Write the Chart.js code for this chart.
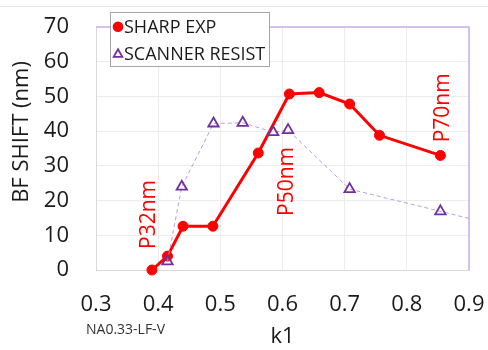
<!DOCTYPE html>
<html>
<head>
<meta charset="utf-8">
<script src="https://cdn.jsdelivr.net/npm/chart.js@4.4.1/dist/chart.umd.min.js"></script>
<style>
  html, body { margin: 0; padding: 0; background: #fff; }
  canvas { display: block; }
</style>
</head>
<body>
<canvas id="bfShiftChart" width="488" height="350"></canvas>
<script>
// values
const sharpK1 = [0.39, 0.415, 0.44, 0.488, 0.561, 0.611, 0.659, 0.708, 0.756, 0.854];
const sharpShift = [0, 4, 12.6, 12.6, 33.7, 50.7, 51.1, 47.8, 38.8, 33.0];

const scannerK1 = [0.415, 0.438, 0.489, 0.536, 0.585, 0.609, 0.708, 0.854, 0.96];
const scannerShift = [2.5, 24, 42.2, 42.4, 39.7, 40.3, 23.3, 16.9, 12.2];

const xTicks = [0.3, 0.4, 0.5, 0.6, 0.7, 0.8, 0.9];
const yTicks = [0, 10, 20, 30, 40, 50, 60, 70];

const pitchLabels = ['P32nm', 'P50nm', 'P70nm'];
const pitchLabelK1 = [0.386, 0.607, 0.858];
const pitchLabelShift = [16.0, 25.5, 46.7];

const RED = '#ff0000';
const PURPLE = '#7030a0';
const FONT = "'Open Sans', sans-serif";

Chart.defaults.font.family = FONT;

const overlay = {
  id: 'overlay',
  beforeDraw(chart) {
    const { ctx } = chart;
    ctx.save();
    ctx.strokeStyle = '#e4e4e4';
    ctx.lineWidth = 1;
    ctx.beginPath();
    ctx.moveTo(0, 6.5);
    ctx.lineTo(chart.width, 6.5);
    ctx.stroke();
    ctx.restore();
  },
  beforeDatasetsDraw(chart) {
    const { ctx, chartArea: a } = chart;
    ctx.save();
    ctx.strokeStyle = '#c9b0e8';
    ctx.lineWidth = 1.5;
    ctx.beginPath();
    ctx.moveTo(a.left, a.top);
    ctx.lineTo(a.right, a.top);
    ctx.lineTo(a.right, a.bottom);
    ctx.stroke();
    ctx.restore();
  },
  afterDraw(chart) {
    const { ctx } = chart;
    const xs = chart.scales.x;
    const ys = chart.scales.y;
    ctx.save();
    ctx.textAlign = 'center';
    ctx.textBaseline = 'middle';

    // y axis title
    ctx.fillStyle = '#1a1a1a';
    ctx.font = '22px ' + FONT;
    ctx.save();
    ctx.translate(22, 132);
    ctx.rotate(-Math.PI / 2);
    ctx.fillText('BF SHIFT (nm)', 0, 0);
    ctx.restore();

    // x axis title and note
    ctx.fillText('k1', 282.5, 337);
    ctx.font = '14px ' + FONT;
    ctx.fillStyle = '#333';
    ctx.textAlign = 'left';
    ctx.fillText('NA0.33-LF-V', 86, 330);

    // pitch labels
    ctx.textAlign = 'center';
    ctx.fillStyle = RED;
    ctx.font = '21px ' + FONT;
    pitchLabels.forEach((txt, i) => {
      ctx.save();
      ctx.translate(xs.getPixelForValue(pitchLabelK1[i]), ys.getPixelForValue(pitchLabelShift[i]));
      ctx.rotate(-Math.PI / 2);
      ctx.fillText(txt, 0, 0);
      ctx.restore();
    });

    // legend
    ctx.fillStyle = '#fff';
    ctx.fillRect(110.5, 12.5, 159, 54);
    ctx.strokeStyle = '#a6a6a6';
    ctx.lineWidth = 1;
    ctx.strokeRect(110.5, 12.5, 159, 54);
    const rows = [26.7, 54.3];
    chart.data.datasets.forEach((ds, i) => {
      const y = rows[i];
      ctx.save();
      if (ds.pointStyle === 'triangle') {
        ctx.strokeStyle = ds.pointBorderColor;
        ctx.lineWidth = 1.8;
        const r = 5;
        ctx.beginPath();
        ctx.moveTo(118, y - r);
        ctx.lineTo(118 + r * 0.866, y + r * 0.5);
        ctx.lineTo(118 - r * 0.866, y + r * 0.5);
        ctx.closePath();
        ctx.stroke();
      } else {
        ctx.fillStyle = ds.pointBackgroundColor;
        ctx.beginPath();
        ctx.arc(118, y, 5.3, 0, Math.PI * 2);
        ctx.fill();
      }
      ctx.restore();
      ctx.fillStyle = '#1a1a1a';
      ctx.font = '18px ' + FONT;
      ctx.textAlign = 'left';
      ctx.fillText(ds.label, 124, y + 1);
    });
    ctx.restore();
  }
};

const ctx = document.getElementById('bfShiftChart').getContext('2d');

new Chart(ctx, {
  type: 'line',
  data: {
    datasets: [
      {
        label: 'SHARP EXP',
        data: sharpK1.map((k, i) => ({ x: k, y: sharpShift[i] })),
        borderColor: RED,
        borderWidth: 3,
        pointStyle: 'circle',
        pointRadius: 5,
        pointBorderWidth: 1,
        pointBackgroundColor: RED,
        pointBorderColor: RED,
        clip: false,
        order: 1,
      },
      {
        label: 'SCANNER RESIST',
        data: scannerK1.map((k, i) => ({ x: k, y: scannerShift[i] })),
        borderColor: '#b89ddd',
        borderWidth: 1,
        borderDash: [4, 3],
        pointStyle: 'triangle',
        pointRadius: 6,
        pointBorderWidth: 1.8,
        pointBackgroundColor: 'rgba(255,255,255,0)',
        pointBorderColor: PURPLE,
        clip: { left: 10, top: 10, right: 0, bottom: 10 },
        order: 0,
      },
    ],
  },
  options: {
    responsive: false,
    animation: false,
    devicePixelRatio: 1,
    events: [],
    layout: {
      padding: { left: 0, top: 27, right: 19, bottom: 0 },
    },
    plugins: {
      legend: { display: false },
      tooltip: { enabled: false },
    },
    scales: {
      x: {
        type: 'linear',
        min: 0.3,
        max: 0.9,
        afterFit: (scale) => {
          scale.height = 80;
          scale.paddingLeft = 0;
          scale.paddingRight = 0;
        },
        afterBuildTicks: (scale) => { scale.ticks = xTicks.map((v) => ({ value: v })); },
        grid: { color: '#ececec', drawTicks: false },
        border: { color: '#d9d9d9' },
        ticks: {
          padding: 22,
          color: '#1a1a1a',
          font: { size: 22 },
          callback: (v) => v.toFixed(1),
        },
      },
      y: {
        min: 0,
        max: 70,
        afterFit: (scale) => {
          scale.width = 96;
          scale.paddingTop = 0;
          scale.paddingBottom = 0;
        },
        afterBuildTicks: (scale) => { scale.ticks = yTicks.map((v) => ({ value: v })); },
        grid: { color: '#ececec', drawTicks: false },
        border: { color: '#d9d9d9' },
        ticks: {
          padding: 27,
          color: '#1a1a1a',
          font: { size: 22 },
        },
      },
    },
  },
  plugins: [overlay],
});
</script>
</body>
</html>
